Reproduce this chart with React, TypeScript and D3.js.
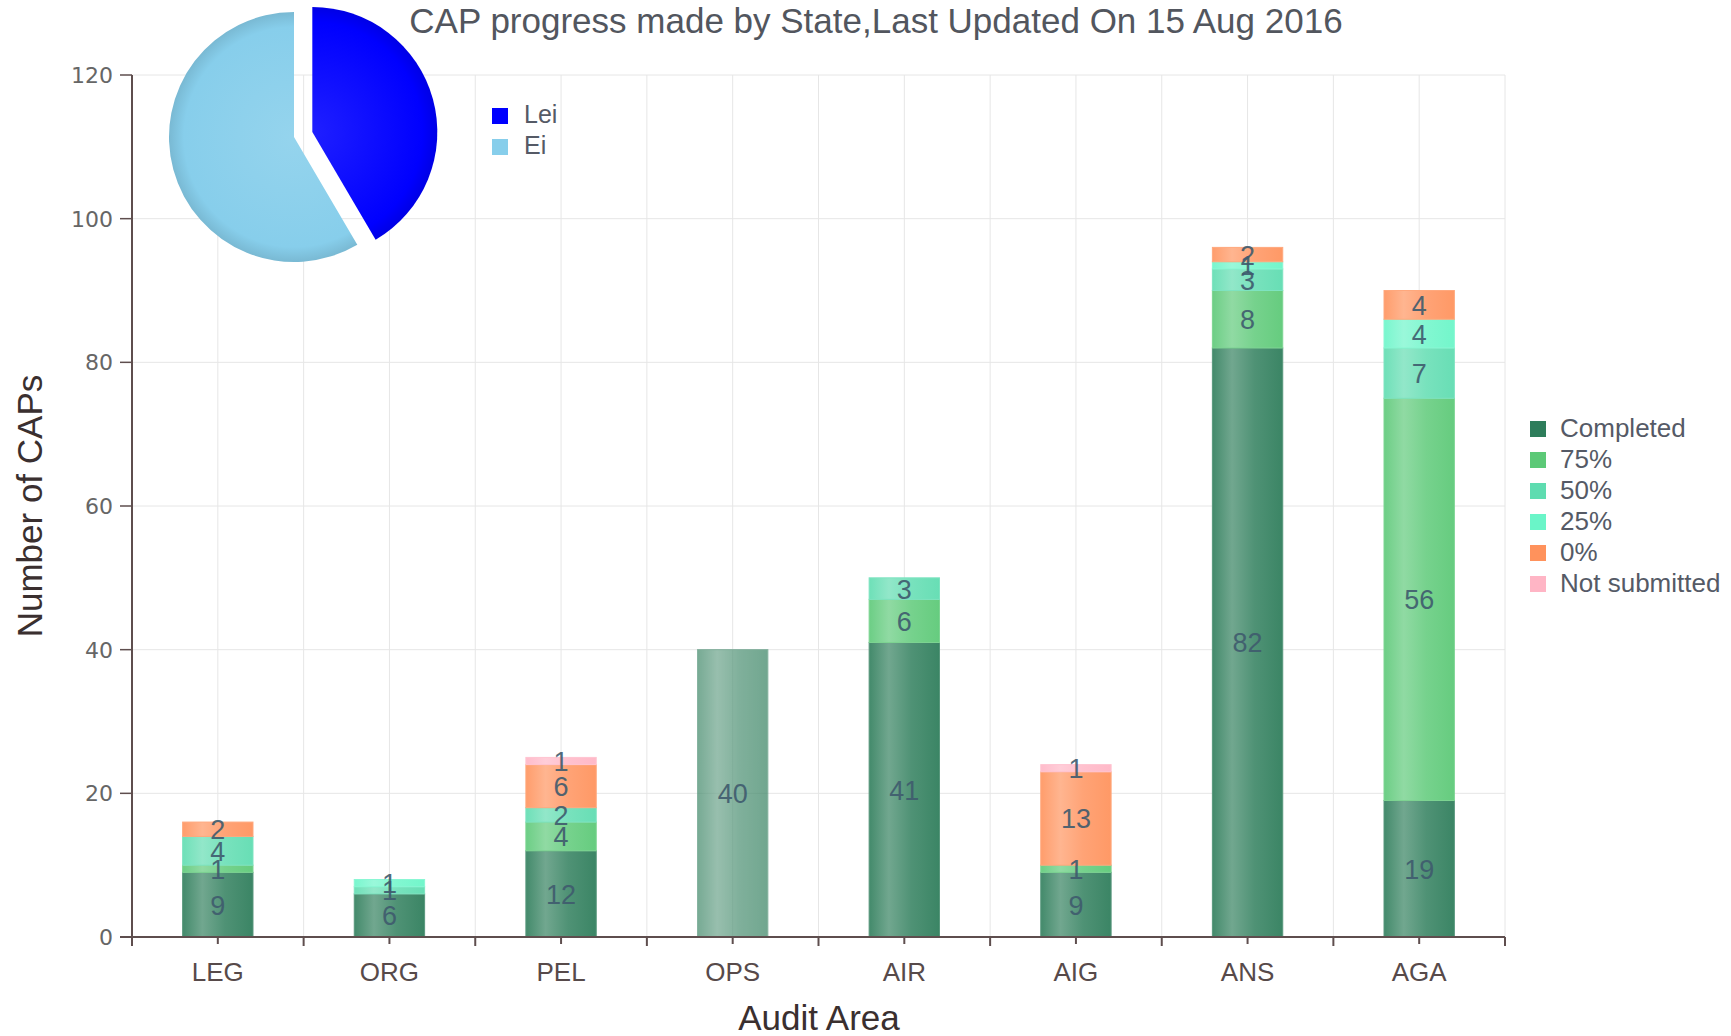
import React from "react";
import * as d3 from "d3";

// bar chart data
const categories = ["LEG", "ORG", "PEL", "OPS", "AIR", "AIG", "ANS", "AGA"];
const seriesNames = ["Completed", "75%", "50%", "25%", "0%", "Not submitted"];
const seriesColors = ["#2e7d5b", "#5cc977", "#5edcb0", "#6af5c8", "#ff925c", "#ffb5c5"];
const completed = [9, 6, 12, 40, 41, 9, 82, 19];
const pct75 = [1, 0, 4, 0, 6, 1, 8, 56];
const pct50 = [4, 1, 2, 0, 3, 0, 3, 7];
const pct25 = [0, 1, 0, 0, 0, 0, 1, 4];
const pct0 = [2, 0, 6, 0, 0, 13, 2, 4];
const notSubmitted = [0, 0, 1, 0, 0, 1, 0, 0];
const yTicks = [0, 20, 40, 60, 80, 100, 120];

// pie data
const pieLabels = ["Lei", "Ei"];
const pieValues = [145, 204];
const pieColors = ["#0000ff", "#87ceeb"];

const hovered = "OPS"; // bar drawn in hover state in the original

const FONT = "'Liberation Sans', Arial, sans-serif";

function App() {
  const width = 1731;
  const height = 1036;
  const left = 132, right = 1505, top = 75, bottom = 937;

  const x = d3.scaleBand().domain(categories).range([left, right]).paddingInner(0.59).paddingOuter(0.295);
  const y = d3.scaleLinear().domain([0, 120]).range([bottom, top]);
  const step = x.step();

  const columns = [completed, pct75, pct50, pct25, pct0, notSubmitted];
  const rows = categories.map((c, i) => {
    const r: any = { cat: c };
    seriesNames.forEach((s, j) => (r[s] = columns[j][i]));
    return r;
  });
  const stacked = d3.stack<any>().keys(seriesNames)(rows);

  const mix = (c: string, t: number) => d3.interpolateRgb(c, "#ffffff")(t);

  // pie
  const pcx = 294, pcy = 137, pr = 125;
  const pie = d3.pie<number>().sort(null).value((d) => d)(pieValues);
  const arc = d3.arc<any>().innerRadius(0).outerRadius(pr);
  const pieOffset = (i: number, p: any) => {
    const mid = (p.startAngle + p.endAngle) / 2;
    const off = i === 0 ? 19 : 0;
    return [pcx + off * Math.sin(mid), pcy - off * Math.cos(mid)];
  };

  const boundaries = d3.range(1, categories.length + 1).map((i) => left + i * step);
  const centers = categories.map((c) => x(c)! + x.bandwidth() / 2);

  return (
    <svg width={width} height={height} style={{ position: "absolute", left: 0, top: 0 }}>
      <defs>
        {seriesColors.map((c, i) => (
          <linearGradient key={i} id={`bar-${i}`} x1="0" x2="1" y1="0" y2="0">
            <stop offset="0" stopColor={mix(c, 0.1)} />
            <stop offset="0.28" stopColor={mix(c, 0.32)} />
            <stop offset="0.6" stopColor={mix(c, 0.16)} />
            <stop offset="1" stopColor={mix(c, 0.06)} />
          </linearGradient>
        ))}
        {pieColors.map((c, i) => (
          <radialGradient key={i} id={`pie-${i}`} gradientUnits="userSpaceOnUse" cx={0} cy={0} r={pr}>
            <stop offset="0" stopColor={mix(c, 0.12)} />
            <stop offset="0.88" stopColor={c} />
            <stop offset="1" stopColor={d3.color(c)!.darker(0.3).toString()} />
          </radialGradient>
        ))}
      </defs>

      {/* grid */}
      <g stroke="#e6e6e6" strokeWidth={1}>
        {yTicks.filter((t) => t > 0).map((t) => (
          <line key={t} x1={left} x2={right} y1={y(t)} y2={y(t)} />
        ))}
        {boundaries.concat(centers).map((gx, i) => (
          <line key={i} x1={gx} x2={gx} y1={top} y2={bottom} />
        ))}
      </g>

      {/* pie */}
      <g>
        {pie.map((p, i) => {
          const [tx, ty] = pieOffset(i, p);
          return <path key={i} d={arc(p)!} fill={`url(#pie-${i})`} transform={`translate(${tx},${ty})`} />;
        })}
        {pieLabels.map((l, i) => (
          <g key={l} transform={`translate(492,${108 + i * 31})`}>
            <rect width={16} height={16} fill={pieColors[i]} />
            <text x={32} y={15} fontFamily={FONT} fontSize={25} fill="#555a66">{l}</text>
          </g>
        ))}
      </g>

      {/* bars */}
      {stacked.map((layer, si) => (
        <g key={layer.key}>
          {layer.map((d, ci) => {
            const v = d[1] - d[0];
            if (v <= 0) return null;
            const cat = categories[ci];
            return (
              <rect key={cat} x={x(cat)} width={x.bandwidth()} y={y(d[1])} height={y(d[0]) - y(d[1])}
                fill={`url(#bar-${si})`} stroke={mix(seriesColors[si], 0.2)} strokeWidth={1}
                opacity={cat === hovered ? 0.72 : 1} />
            );
          })}
        </g>
      ))}
      {stacked.map((layer) => (
        <g key={layer.key + "-lbl"}>
          {layer.map((d, ci) => {
            const v = d[1] - d[0];
            if (v <= 0) return null;
            const cat = categories[ci];
            return (
              <text key={cat} x={x(cat)! + x.bandwidth() / 2} y={y((d[0] + d[1]) / 2) + 10}
                textAnchor="middle" fontFamily={FONT} fontSize={27} fill="#3f5b6e" opacity={0.9}>
                {v}
              </text>
            );
          })}
        </g>
      ))}

      {/* axes */}
      <g stroke="#5e4e4e">
        <line x1={left} x2={left} y1={top} y2={bottom + 1} strokeWidth={2} />
        <line x1={left - 12} x2={right} y1={bottom} y2={bottom} strokeWidth={2} />
        {yTicks.map((t) => (
          <line key={t} x1={left - 12} x2={left} y1={y(t)} y2={y(t)} strokeWidth={1.5} />
        ))}
        {[left].concat(boundaries).map((bx, i) => (
          <line key={"b" + i} x1={bx} x2={bx} y1={bottom} y2={bottom + 9} strokeWidth={2} />
        ))}
        {centers.map((cx, i) => (
          <line key={"c" + i} x1={cx} x2={cx} y1={bottom} y2={bottom + 7} strokeWidth={2} />
        ))}
      </g>
      {yTicks.map((t) => (
        <text key={t} x={113} y={y(t) + 8} textAnchor="end" fontFamily="'DejaVu Sans', Verdana, sans-serif"
          fontSize={22} fill="#666">
          {t}
        </text>
      ))}
      {categories.map((c) => (
        <text key={c} x={x(c)! + x.bandwidth() / 2} y={981} textAnchor="middle" fontFamily={FONT}
          fontSize={26} fill="#574a4a">
          {c}
        </text>
      ))}

      {/* titles */}
      <text x={876} y={33} textAnchor="middle" fontFamily={FONT} fontSize={35} fill="#52565e">
        CAP progress made by State,Last Updated On 15 Aug 2016
      </text>
      <text x={819} y={1030} textAnchor="middle" fontFamily={FONT} fontSize={35} fill="#3a2f2f">
        Audit Area
      </text>
      <text transform="translate(42,506) rotate(-90)" textAnchor="middle" fontFamily={FONT} fontSize={35}
        fill="#3a2f2f">
        Number of CAPs
      </text>

      {/* legend */}
      {seriesNames.map((s, i) => (
        <g key={s} transform={`translate(1530,${421 + i * 31})`}>
          <rect width={16} height={16} fill={seriesColors[i]} />
          <text x={30} y={16} fontFamily={FONT} fontSize={26} fill="#555a66">{s}</text>
        </g>
      ))}
    </svg>
  );
}

export default App;
